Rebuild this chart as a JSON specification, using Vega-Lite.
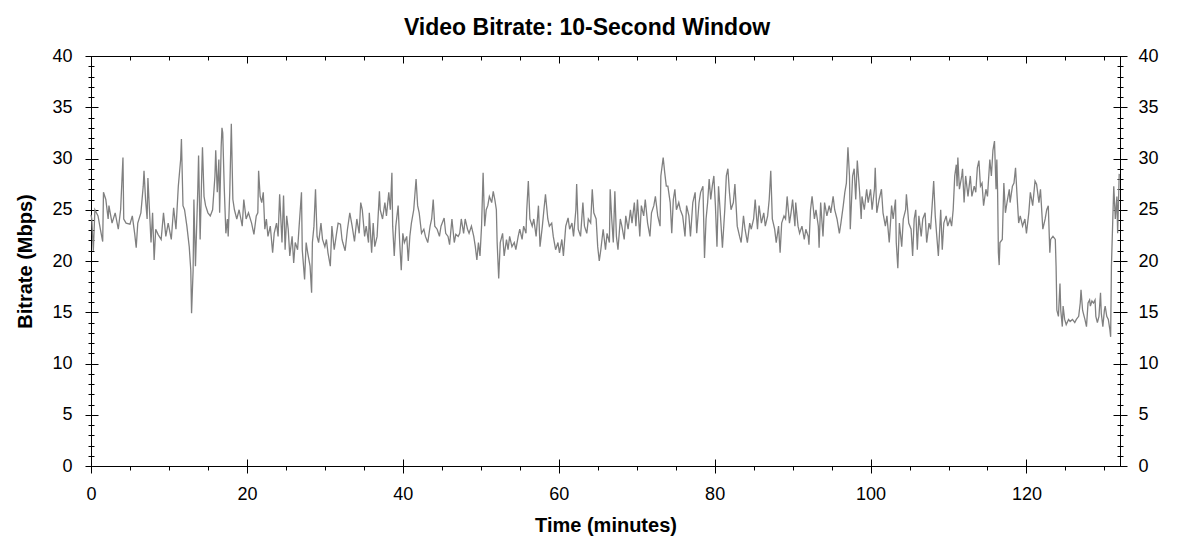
{
  "$schema": "https://vega.github.io/schema/vega-lite/v6.json",
  "width": 1029,
  "height": 410,
  "autosize": "none",
  "padding": {"left": 91, "top": 56, "right": 58, "bottom": 86},
  "background": "white",
  "title": {
    "text": "Video Bitrate: 10-Second Window",
    "font": "Liberation Sans",
    "fontSize": 23,
    "fontWeight": "bold",
    "color": "black",
    "frame": "bounds",
    "anchor": "middle",
    "baseline": "alphabetic",
    "offset": -11
  },
  "config": {
    "view": {"stroke": "black", "strokeWidth": 1},
    "axis": {
      "grid": false,
      "domain": false,
      "labelFlush": false,
      "tickColor": "black",
      "tickWidth": 1,
      "labelColor": "black",
      "titleColor": "black",
      "labelFont": "Liberation Sans",
      "titleFont": "Liberation Sans",
      "labelFontSize": 18,
      "titleFontSize": 20,
      "titleFontWeight": "bold"
    }
  },
  "data": {
    "values": [
      {"minutes": 0.0, "mbps": 24.5}, {"minutes": 0.1, "mbps": 24.1}, {"minutes": 0.3, "mbps": 21.0}, {"minutes": 0.5, "mbps": 25.0},
      {"minutes": 0.9, "mbps": 24.4}, {"minutes": 1.2, "mbps": 23.1}, {"minutes": 1.5, "mbps": 21.9}, {"minutes": 1.6, "mbps": 26.7},
      {"minutes": 1.9, "mbps": 26.0}, {"minutes": 2.2, "mbps": 24.1}, {"minutes": 2.3, "mbps": 25.4}, {"minutes": 2.7, "mbps": 23.7},
      {"minutes": 3.1, "mbps": 24.7}, {"minutes": 3.5, "mbps": 23.1}, {"minutes": 3.8, "mbps": 25.0}, {"minutes": 4.1, "mbps": 30.1},
      {"minutes": 4.2, "mbps": 24.1}, {"minutes": 4.5, "mbps": 23.7}, {"minutes": 5.0, "mbps": 23.6}, {"minutes": 5.3, "mbps": 24.4},
      {"minutes": 5.6, "mbps": 22.7}, {"minutes": 5.8, "mbps": 21.3}, {"minutes": 6.0, "mbps": 23.7}, {"minutes": 6.4, "mbps": 24.7},
      {"minutes": 6.7, "mbps": 27.3}, {"minutes": 6.8, "mbps": 28.8}, {"minutes": 7.0, "mbps": 26.0}, {"minutes": 7.2, "mbps": 24.1},
      {"minutes": 7.3, "mbps": 28.1}, {"minutes": 7.5, "mbps": 25.0}, {"minutes": 7.7, "mbps": 21.8}, {"minutes": 7.9, "mbps": 24.7},
      {"minutes": 8.1, "mbps": 20.1}, {"minutes": 8.3, "mbps": 23.1}, {"minutes": 8.6, "mbps": 22.6}, {"minutes": 9.0, "mbps": 22.1},
      {"minutes": 9.3, "mbps": 24.7}, {"minutes": 9.6, "mbps": 22.4}, {"minutes": 9.9, "mbps": 23.7}, {"minutes": 10.3, "mbps": 22.1},
      {"minutes": 10.6, "mbps": 25.2}, {"minutes": 10.9, "mbps": 23.1}, {"minutes": 11.2, "mbps": 27.3}, {"minutes": 11.5, "mbps": 29.9},
      {"minutes": 11.6, "mbps": 31.9}, {"minutes": 11.8, "mbps": 25.4}, {"minutes": 12.0, "mbps": 25.0}, {"minutes": 12.3, "mbps": 23.4},
      {"minutes": 12.6, "mbps": 21.4}, {"minutes": 12.8, "mbps": 19.1}, {"minutes": 12.9, "mbps": 14.9}, {"minutes": 13.1, "mbps": 19.1},
      {"minutes": 13.2, "mbps": 26.0}, {"minutes": 13.4, "mbps": 19.5}, {"minutes": 13.7, "mbps": 27.0}, {"minutes": 13.8, "mbps": 30.3},
      {"minutes": 14.0, "mbps": 22.1}, {"minutes": 14.2, "mbps": 28.3}, {"minutes": 14.3, "mbps": 31.1}, {"minutes": 14.5, "mbps": 26.3},
      {"minutes": 14.7, "mbps": 25.4}, {"minutes": 15.0, "mbps": 24.7}, {"minutes": 15.3, "mbps": 24.4}, {"minutes": 15.6, "mbps": 25.0},
      {"minutes": 15.9, "mbps": 28.3}, {"minutes": 16.0, "mbps": 30.8}, {"minutes": 16.2, "mbps": 26.7}, {"minutes": 16.4, "mbps": 29.9},
      {"minutes": 16.5, "mbps": 24.7}, {"minutes": 16.7, "mbps": 31.2}, {"minutes": 16.8, "mbps": 33.0}, {"minutes": 16.9, "mbps": 32.5},
      {"minutes": 17.1, "mbps": 27.0}, {"minutes": 17.3, "mbps": 22.7}, {"minutes": 17.5, "mbps": 24.1}, {"minutes": 17.6, "mbps": 22.4},
      {"minutes": 17.8, "mbps": 26.7}, {"minutes": 18.0, "mbps": 33.4}, {"minutes": 18.2, "mbps": 26.0}, {"minutes": 18.4, "mbps": 25.0},
      {"minutes": 18.7, "mbps": 24.1}, {"minutes": 19.0, "mbps": 25.0}, {"minutes": 19.4, "mbps": 23.4}, {"minutes": 19.6, "mbps": 26.0},
      {"minutes": 19.9, "mbps": 24.1}, {"minutes": 20.2, "mbps": 24.7}, {"minutes": 20.6, "mbps": 23.7}, {"minutes": 20.9, "mbps": 22.6},
      {"minutes": 21.2, "mbps": 24.4}, {"minutes": 21.4, "mbps": 24.7}, {"minutes": 21.5, "mbps": 28.8}, {"minutes": 21.7, "mbps": 26.3},
      {"minutes": 21.9, "mbps": 25.7}, {"minutes": 22.1, "mbps": 26.7}, {"minutes": 22.3, "mbps": 23.1}, {"minutes": 22.5, "mbps": 24.1},
      {"minutes": 22.7, "mbps": 22.4}, {"minutes": 23.0, "mbps": 23.4}, {"minutes": 23.3, "mbps": 20.8}, {"minutes": 23.5, "mbps": 22.7},
      {"minutes": 23.8, "mbps": 23.7}, {"minutes": 24.0, "mbps": 22.4}, {"minutes": 24.2, "mbps": 26.5}, {"minutes": 24.5, "mbps": 21.8},
      {"minutes": 24.7, "mbps": 26.4}, {"minutes": 24.9, "mbps": 21.1}, {"minutes": 25.1, "mbps": 24.4}, {"minutes": 25.3, "mbps": 23.1},
      {"minutes": 25.5, "mbps": 20.5}, {"minutes": 25.8, "mbps": 22.4}, {"minutes": 26.0, "mbps": 19.8}, {"minutes": 26.2, "mbps": 21.8},
      {"minutes": 26.5, "mbps": 21.1}, {"minutes": 26.7, "mbps": 23.4}, {"minutes": 27.0, "mbps": 26.7}, {"minutes": 27.1, "mbps": 21.1},
      {"minutes": 27.4, "mbps": 18.2}, {"minutes": 27.6, "mbps": 21.8}, {"minutes": 27.8, "mbps": 20.8}, {"minutes": 28.1, "mbps": 19.5},
      {"minutes": 28.3, "mbps": 16.9}, {"minutes": 28.4, "mbps": 21.8}, {"minutes": 28.6, "mbps": 23.4}, {"minutes": 28.8, "mbps": 27.0},
      {"minutes": 29.0, "mbps": 22.4}, {"minutes": 29.2, "mbps": 21.8}, {"minutes": 29.5, "mbps": 23.7}, {"minutes": 29.7, "mbps": 22.1},
      {"minutes": 30.0, "mbps": 21.4}, {"minutes": 30.2, "mbps": 22.1}, {"minutes": 30.4, "mbps": 20.8}, {"minutes": 30.7, "mbps": 19.5},
      {"minutes": 30.9, "mbps": 23.4}, {"minutes": 31.2, "mbps": 21.1}, {"minutes": 31.5, "mbps": 22.7}, {"minutes": 31.7, "mbps": 23.7},
      {"minutes": 32.0, "mbps": 23.6}, {"minutes": 32.2, "mbps": 22.1}, {"minutes": 32.3, "mbps": 21.8}, {"minutes": 32.6, "mbps": 21.0},
      {"minutes": 32.9, "mbps": 23.1}, {"minutes": 33.2, "mbps": 24.7}, {"minutes": 33.5, "mbps": 23.4}, {"minutes": 33.8, "mbps": 21.9},
      {"minutes": 34.1, "mbps": 24.1}, {"minutes": 34.4, "mbps": 22.7}, {"minutes": 34.6, "mbps": 25.7}, {"minutes": 34.8, "mbps": 25.0},
      {"minutes": 35.1, "mbps": 22.4}, {"minutes": 35.3, "mbps": 23.4}, {"minutes": 35.6, "mbps": 21.8}, {"minutes": 35.7, "mbps": 24.7},
      {"minutes": 36.0, "mbps": 20.8}, {"minutes": 36.2, "mbps": 23.7}, {"minutes": 36.4, "mbps": 21.4}, {"minutes": 36.7, "mbps": 22.4},
      {"minutes": 37.0, "mbps": 26.8}, {"minutes": 37.1, "mbps": 25.0}, {"minutes": 37.4, "mbps": 24.1}, {"minutes": 37.7, "mbps": 25.7},
      {"minutes": 37.9, "mbps": 24.4}, {"minutes": 38.2, "mbps": 26.7}, {"minutes": 38.4, "mbps": 25.0}, {"minutes": 38.6, "mbps": 28.6},
      {"minutes": 38.7, "mbps": 23.4}, {"minutes": 38.9, "mbps": 20.5}, {"minutes": 39.1, "mbps": 23.4}, {"minutes": 39.4, "mbps": 25.4},
      {"minutes": 39.6, "mbps": 21.8}, {"minutes": 39.8, "mbps": 19.1}, {"minutes": 40.0, "mbps": 22.7}, {"minutes": 40.2, "mbps": 21.8},
      {"minutes": 40.5, "mbps": 22.4}, {"minutes": 40.7, "mbps": 20.0}, {"minutes": 40.9, "mbps": 22.4}, {"minutes": 41.1, "mbps": 23.7},
      {"minutes": 41.4, "mbps": 25.0}, {"minutes": 41.7, "mbps": 28.0}, {"minutes": 41.9, "mbps": 25.4}, {"minutes": 42.1, "mbps": 24.7},
      {"minutes": 42.4, "mbps": 22.7}, {"minutes": 42.7, "mbps": 23.1}, {"minutes": 42.9, "mbps": 22.4}, {"minutes": 43.2, "mbps": 21.8},
      {"minutes": 43.5, "mbps": 23.4}, {"minutes": 43.7, "mbps": 24.1}, {"minutes": 43.9, "mbps": 26.0}, {"minutes": 44.1, "mbps": 23.4},
      {"minutes": 44.4, "mbps": 23.1}, {"minutes": 44.7, "mbps": 22.4}, {"minutes": 44.9, "mbps": 23.4}, {"minutes": 45.3, "mbps": 24.2},
      {"minutes": 45.5, "mbps": 22.7}, {"minutes": 45.8, "mbps": 22.4}, {"minutes": 46.0, "mbps": 21.6}, {"minutes": 46.3, "mbps": 24.1},
      {"minutes": 46.6, "mbps": 21.8}, {"minutes": 46.8, "mbps": 22.6}, {"minutes": 47.1, "mbps": 22.4}, {"minutes": 47.3, "mbps": 22.7},
      {"minutes": 47.5, "mbps": 24.1}, {"minutes": 47.8, "mbps": 22.7}, {"minutes": 48.0, "mbps": 24.1}, {"minutes": 48.3, "mbps": 23.1},
      {"minutes": 48.5, "mbps": 22.7}, {"minutes": 48.8, "mbps": 23.4}, {"minutes": 49.1, "mbps": 22.4}, {"minutes": 49.3, "mbps": 21.4},
      {"minutes": 49.5, "mbps": 20.1}, {"minutes": 49.7, "mbps": 21.8}, {"minutes": 49.9, "mbps": 20.5}, {"minutes": 50.1, "mbps": 23.4},
      {"minutes": 50.3, "mbps": 28.6}, {"minutes": 50.5, "mbps": 23.4}, {"minutes": 50.7, "mbps": 25.0}, {"minutes": 50.9, "mbps": 25.4},
      {"minutes": 51.1, "mbps": 26.3}, {"minutes": 51.4, "mbps": 25.7}, {"minutes": 51.6, "mbps": 26.8}, {"minutes": 51.8, "mbps": 26.0},
      {"minutes": 52.0, "mbps": 25.0}, {"minutes": 52.1, "mbps": 21.8}, {"minutes": 52.3, "mbps": 18.3}, {"minutes": 52.5, "mbps": 21.8},
      {"minutes": 52.8, "mbps": 22.7}, {"minutes": 53.0, "mbps": 20.5}, {"minutes": 53.3, "mbps": 22.1}, {"minutes": 53.5, "mbps": 21.1},
      {"minutes": 53.7, "mbps": 22.4}, {"minutes": 54.0, "mbps": 21.4}, {"minutes": 54.3, "mbps": 21.8}, {"minutes": 54.5, "mbps": 21.1},
      {"minutes": 54.8, "mbps": 22.4}, {"minutes": 55.0, "mbps": 23.1}, {"minutes": 55.3, "mbps": 22.1}, {"minutes": 55.5, "mbps": 23.4},
      {"minutes": 55.8, "mbps": 22.7}, {"minutes": 55.9, "mbps": 25.0}, {"minutes": 56.1, "mbps": 27.8}, {"minutes": 56.3, "mbps": 24.1},
      {"minutes": 56.6, "mbps": 23.4}, {"minutes": 56.8, "mbps": 24.1}, {"minutes": 57.1, "mbps": 22.4}, {"minutes": 57.4, "mbps": 25.4},
      {"minutes": 57.6, "mbps": 21.4}, {"minutes": 57.9, "mbps": 23.4}, {"minutes": 58.1, "mbps": 25.0}, {"minutes": 58.3, "mbps": 26.5},
      {"minutes": 58.6, "mbps": 24.1}, {"minutes": 58.8, "mbps": 23.4}, {"minutes": 59.1, "mbps": 23.7}, {"minutes": 59.3, "mbps": 22.4},
      {"minutes": 59.6, "mbps": 21.1}, {"minutes": 59.9, "mbps": 21.8}, {"minutes": 60.1, "mbps": 20.8}, {"minutes": 60.4, "mbps": 22.1},
      {"minutes": 60.6, "mbps": 20.5}, {"minutes": 60.9, "mbps": 23.4}, {"minutes": 61.2, "mbps": 24.2}, {"minutes": 61.4, "mbps": 23.1},
      {"minutes": 61.7, "mbps": 23.7}, {"minutes": 61.9, "mbps": 22.4}, {"minutes": 62.2, "mbps": 25.0}, {"minutes": 62.3, "mbps": 27.5},
      {"minutes": 62.5, "mbps": 23.1}, {"minutes": 62.8, "mbps": 22.4}, {"minutes": 63.1, "mbps": 25.7}, {"minutes": 63.3, "mbps": 23.4},
      {"minutes": 63.6, "mbps": 22.7}, {"minutes": 63.8, "mbps": 24.1}, {"minutes": 64.1, "mbps": 23.7}, {"minutes": 64.3, "mbps": 27.0},
      {"minutes": 64.5, "mbps": 24.7}, {"minutes": 64.8, "mbps": 24.1}, {"minutes": 65.0, "mbps": 21.4}, {"minutes": 65.2, "mbps": 20.0},
      {"minutes": 65.4, "mbps": 21.1}, {"minutes": 65.7, "mbps": 23.1}, {"minutes": 66.0, "mbps": 21.1}, {"minutes": 66.2, "mbps": 22.7},
      {"minutes": 66.5, "mbps": 21.8}, {"minutes": 66.6, "mbps": 27.0}, {"minutes": 66.8, "mbps": 24.1}, {"minutes": 67.0, "mbps": 21.8},
      {"minutes": 67.2, "mbps": 26.8}, {"minutes": 67.4, "mbps": 22.4}, {"minutes": 67.6, "mbps": 21.1}, {"minutes": 67.9, "mbps": 24.1},
      {"minutes": 68.1, "mbps": 23.4}, {"minutes": 68.4, "mbps": 22.1}, {"minutes": 68.6, "mbps": 24.4}, {"minutes": 68.9, "mbps": 23.1},
      {"minutes": 69.2, "mbps": 25.0}, {"minutes": 69.4, "mbps": 23.7}, {"minutes": 69.7, "mbps": 25.7}, {"minutes": 69.9, "mbps": 23.4},
      {"minutes": 70.1, "mbps": 26.0}, {"minutes": 70.4, "mbps": 22.4}, {"minutes": 70.6, "mbps": 25.4}, {"minutes": 70.9, "mbps": 24.4},
      {"minutes": 71.1, "mbps": 26.0}, {"minutes": 71.4, "mbps": 23.7}, {"minutes": 71.7, "mbps": 22.4}, {"minutes": 71.9, "mbps": 24.7},
      {"minutes": 72.2, "mbps": 25.4}, {"minutes": 72.4, "mbps": 26.3}, {"minutes": 72.7, "mbps": 24.4}, {"minutes": 73.0, "mbps": 23.4},
      {"minutes": 73.1, "mbps": 28.3}, {"minutes": 73.4, "mbps": 30.1}, {"minutes": 73.6, "mbps": 28.6}, {"minutes": 73.8, "mbps": 27.3},
      {"minutes": 74.0, "mbps": 27.3}, {"minutes": 74.3, "mbps": 25.7}, {"minutes": 74.5, "mbps": 22.7}, {"minutes": 74.7, "mbps": 26.0},
      {"minutes": 74.9, "mbps": 27.0}, {"minutes": 75.1, "mbps": 25.0}, {"minutes": 75.4, "mbps": 25.7}, {"minutes": 75.6, "mbps": 25.0},
      {"minutes": 75.9, "mbps": 24.4}, {"minutes": 76.2, "mbps": 22.4}, {"minutes": 76.4, "mbps": 25.4}, {"minutes": 76.7, "mbps": 24.4},
      {"minutes": 76.9, "mbps": 22.4}, {"minutes": 77.2, "mbps": 25.7}, {"minutes": 77.5, "mbps": 26.7}, {"minutes": 77.7, "mbps": 22.7},
      {"minutes": 78.0, "mbps": 25.7}, {"minutes": 78.2, "mbps": 26.7}, {"minutes": 78.5, "mbps": 27.3}, {"minutes": 78.7, "mbps": 20.3},
      {"minutes": 78.9, "mbps": 24.1}, {"minutes": 79.1, "mbps": 25.7}, {"minutes": 79.3, "mbps": 28.0}, {"minutes": 79.5, "mbps": 26.0},
      {"minutes": 79.7, "mbps": 27.3}, {"minutes": 79.9, "mbps": 28.3}, {"minutes": 80.1, "mbps": 25.4}, {"minutes": 80.3, "mbps": 21.4},
      {"minutes": 80.5, "mbps": 27.3}, {"minutes": 80.7, "mbps": 25.0}, {"minutes": 81.0, "mbps": 21.3}, {"minutes": 81.3, "mbps": 25.0},
      {"minutes": 81.5, "mbps": 28.3}, {"minutes": 81.7, "mbps": 29.0}, {"minutes": 81.9, "mbps": 26.7}, {"minutes": 82.1, "mbps": 25.0},
      {"minutes": 82.4, "mbps": 25.7}, {"minutes": 82.6, "mbps": 27.5}, {"minutes": 82.9, "mbps": 23.4}, {"minutes": 83.2, "mbps": 22.4},
      {"minutes": 83.4, "mbps": 21.8}, {"minutes": 83.7, "mbps": 24.4}, {"minutes": 83.9, "mbps": 23.1}, {"minutes": 84.2, "mbps": 21.8},
      {"minutes": 84.5, "mbps": 23.7}, {"minutes": 84.7, "mbps": 23.1}, {"minutes": 85.0, "mbps": 24.1}, {"minutes": 85.2, "mbps": 26.0},
      {"minutes": 85.5, "mbps": 23.1}, {"minutes": 85.7, "mbps": 25.4}, {"minutes": 86.0, "mbps": 23.7}, {"minutes": 86.3, "mbps": 24.7},
      {"minutes": 86.5, "mbps": 23.4}, {"minutes": 86.8, "mbps": 24.4}, {"minutes": 87.0, "mbps": 26.0}, {"minutes": 87.2, "mbps": 28.8},
      {"minutes": 87.4, "mbps": 24.1}, {"minutes": 87.7, "mbps": 23.1}, {"minutes": 87.9, "mbps": 21.8}, {"minutes": 88.2, "mbps": 23.4},
      {"minutes": 88.4, "mbps": 20.8}, {"minutes": 88.6, "mbps": 23.7}, {"minutes": 88.9, "mbps": 24.4}, {"minutes": 89.1, "mbps": 24.1},
      {"minutes": 89.3, "mbps": 26.3}, {"minutes": 89.6, "mbps": 23.7}, {"minutes": 89.8, "mbps": 24.7}, {"minutes": 90.0, "mbps": 26.0},
      {"minutes": 90.3, "mbps": 23.4}, {"minutes": 90.4, "mbps": 25.7}, {"minutes": 90.7, "mbps": 23.4}, {"minutes": 90.9, "mbps": 22.7},
      {"minutes": 91.2, "mbps": 23.4}, {"minutes": 91.5, "mbps": 22.1}, {"minutes": 91.7, "mbps": 23.1}, {"minutes": 92.0, "mbps": 22.4},
      {"minutes": 92.1, "mbps": 21.6}, {"minutes": 92.3, "mbps": 25.0}, {"minutes": 92.5, "mbps": 26.3}, {"minutes": 92.8, "mbps": 24.1},
      {"minutes": 93.0, "mbps": 25.0}, {"minutes": 93.3, "mbps": 23.4}, {"minutes": 93.4, "mbps": 21.3}, {"minutes": 93.6, "mbps": 25.7},
      {"minutes": 93.9, "mbps": 22.4}, {"minutes": 94.1, "mbps": 25.7}, {"minutes": 94.4, "mbps": 24.4}, {"minutes": 94.7, "mbps": 25.4},
      {"minutes": 94.9, "mbps": 24.7}, {"minutes": 95.2, "mbps": 26.3}, {"minutes": 95.4, "mbps": 25.0}, {"minutes": 95.7, "mbps": 24.1},
      {"minutes": 96.0, "mbps": 22.7}, {"minutes": 96.2, "mbps": 23.7}, {"minutes": 96.5, "mbps": 25.4}, {"minutes": 96.7, "mbps": 26.7},
      {"minutes": 96.9, "mbps": 27.6}, {"minutes": 97.1, "mbps": 31.1}, {"minutes": 97.3, "mbps": 28.3}, {"minutes": 97.4, "mbps": 23.1},
      {"minutes": 97.7, "mbps": 28.3}, {"minutes": 97.9, "mbps": 29.0}, {"minutes": 98.1, "mbps": 26.0}, {"minutes": 98.3, "mbps": 29.8},
      {"minutes": 98.6, "mbps": 26.7}, {"minutes": 98.8, "mbps": 24.1}, {"minutes": 98.9, "mbps": 26.3}, {"minutes": 99.2, "mbps": 25.0},
      {"minutes": 99.5, "mbps": 27.0}, {"minutes": 99.7, "mbps": 25.7}, {"minutes": 100.0, "mbps": 27.0}, {"minutes": 100.2, "mbps": 25.0},
      {"minutes": 100.5, "mbps": 27.0}, {"minutes": 100.6, "mbps": 29.1}, {"minutes": 100.8, "mbps": 24.7}, {"minutes": 101.1, "mbps": 26.0},
      {"minutes": 101.4, "mbps": 27.0}, {"minutes": 101.6, "mbps": 24.7}, {"minutes": 101.9, "mbps": 23.4}, {"minutes": 102.1, "mbps": 24.4},
      {"minutes": 102.4, "mbps": 21.8}, {"minutes": 102.7, "mbps": 25.4}, {"minutes": 102.9, "mbps": 24.1}, {"minutes": 103.2, "mbps": 26.0},
      {"minutes": 103.3, "mbps": 21.8}, {"minutes": 103.5, "mbps": 19.3}, {"minutes": 103.7, "mbps": 23.7}, {"minutes": 104.0, "mbps": 21.4},
      {"minutes": 104.2, "mbps": 24.1}, {"minutes": 104.5, "mbps": 25.0}, {"minutes": 104.6, "mbps": 26.5}, {"minutes": 104.9, "mbps": 23.7},
      {"minutes": 105.2, "mbps": 23.1}, {"minutes": 105.4, "mbps": 20.5}, {"minutes": 105.6, "mbps": 24.1}, {"minutes": 105.8, "mbps": 25.0},
      {"minutes": 106.0, "mbps": 21.1}, {"minutes": 106.2, "mbps": 24.4}, {"minutes": 106.5, "mbps": 22.4}, {"minutes": 106.7, "mbps": 24.1},
      {"minutes": 107.0, "mbps": 24.7}, {"minutes": 107.2, "mbps": 21.8}, {"minutes": 107.5, "mbps": 23.7}, {"minutes": 107.7, "mbps": 23.1},
      {"minutes": 107.9, "mbps": 25.4}, {"minutes": 108.1, "mbps": 27.8}, {"minutes": 108.3, "mbps": 24.4}, {"minutes": 108.5, "mbps": 22.4},
      {"minutes": 108.7, "mbps": 20.5}, {"minutes": 109.0, "mbps": 25.0}, {"minutes": 109.2, "mbps": 21.1}, {"minutes": 109.4, "mbps": 23.7},
      {"minutes": 109.7, "mbps": 24.4}, {"minutes": 109.9, "mbps": 23.4}, {"minutes": 110.2, "mbps": 24.1}, {"minutes": 110.4, "mbps": 23.4},
      {"minutes": 110.6, "mbps": 25.0}, {"minutes": 110.8, "mbps": 28.3}, {"minutes": 111.0, "mbps": 29.4}, {"minutes": 111.1, "mbps": 27.3},
      {"minutes": 111.2, "mbps": 30.1}, {"minutes": 111.4, "mbps": 27.0}, {"minutes": 111.7, "mbps": 28.3}, {"minutes": 111.8, "mbps": 29.0},
      {"minutes": 112.0, "mbps": 25.7}, {"minutes": 112.2, "mbps": 28.3}, {"minutes": 112.5, "mbps": 26.3}, {"minutes": 112.8, "mbps": 28.3},
      {"minutes": 113.0, "mbps": 26.3}, {"minutes": 113.3, "mbps": 27.3}, {"minutes": 113.5, "mbps": 26.7}, {"minutes": 113.7, "mbps": 29.1},
      {"minutes": 113.9, "mbps": 29.8}, {"minutes": 114.1, "mbps": 27.3}, {"minutes": 114.3, "mbps": 27.6}, {"minutes": 114.5, "mbps": 25.4},
      {"minutes": 114.8, "mbps": 27.0}, {"minutes": 115.0, "mbps": 26.3}, {"minutes": 115.3, "mbps": 29.9}, {"minutes": 115.5, "mbps": 28.3},
      {"minutes": 115.7, "mbps": 30.8}, {"minutes": 115.9, "mbps": 31.7}, {"minutes": 116.1, "mbps": 27.0}, {"minutes": 116.2, "mbps": 29.9},
      {"minutes": 116.3, "mbps": 26.7}, {"minutes": 116.4, "mbps": 20.8}, {"minutes": 116.5, "mbps": 19.6}, {"minutes": 116.6, "mbps": 21.8},
      {"minutes": 116.9, "mbps": 22.1}, {"minutes": 117.1, "mbps": 27.6}, {"minutes": 117.3, "mbps": 24.7}, {"minutes": 117.5, "mbps": 25.7},
      {"minutes": 117.8, "mbps": 27.0}, {"minutes": 117.9, "mbps": 25.7}, {"minutes": 118.2, "mbps": 27.3}, {"minutes": 118.4, "mbps": 27.6},
      {"minutes": 118.6, "mbps": 29.1}, {"minutes": 118.8, "mbps": 26.3}, {"minutes": 119.0, "mbps": 23.7}, {"minutes": 119.2, "mbps": 24.4},
      {"minutes": 119.5, "mbps": 23.4}, {"minutes": 119.8, "mbps": 24.1}, {"minutes": 120.0, "mbps": 22.7}, {"minutes": 120.3, "mbps": 24.7},
      {"minutes": 120.5, "mbps": 26.7}, {"minutes": 120.8, "mbps": 25.4}, {"minutes": 121.1, "mbps": 27.8}, {"minutes": 121.3, "mbps": 27.5},
      {"minutes": 121.6, "mbps": 25.7}, {"minutes": 121.8, "mbps": 27.0}, {"minutes": 122.1, "mbps": 23.1}, {"minutes": 122.4, "mbps": 24.1},
      {"minutes": 122.6, "mbps": 25.0}, {"minutes": 122.8, "mbps": 25.4}, {"minutes": 123.0, "mbps": 20.8}, {"minutes": 123.1, "mbps": 22.1},
      {"minutes": 123.4, "mbps": 22.4}, {"minutes": 123.7, "mbps": 22.1}, {"minutes": 123.8, "mbps": 19.5}, {"minutes": 123.9, "mbps": 15.2},
      {"minutes": 124.1, "mbps": 14.6}, {"minutes": 124.2, "mbps": 16.2}, {"minutes": 124.3, "mbps": 17.8}, {"minutes": 124.4, "mbps": 15.2},
      {"minutes": 124.6, "mbps": 13.6}, {"minutes": 124.7, "mbps": 15.6}, {"minutes": 124.9, "mbps": 14.3}, {"minutes": 125.1, "mbps": 13.8},
      {"minutes": 125.4, "mbps": 14.3}, {"minutes": 125.6, "mbps": 14.1}, {"minutes": 125.9, "mbps": 14.3}, {"minutes": 126.2, "mbps": 14.0},
      {"minutes": 126.4, "mbps": 14.3}, {"minutes": 126.7, "mbps": 14.6}, {"minutes": 126.9, "mbps": 15.9}, {"minutes": 127.0, "mbps": 17.2},
      {"minutes": 127.2, "mbps": 15.2}, {"minutes": 127.4, "mbps": 14.6}, {"minutes": 127.5, "mbps": 14.3}, {"minutes": 127.7, "mbps": 13.6},
      {"minutes": 127.9, "mbps": 15.9}, {"minutes": 128.1, "mbps": 16.2}, {"minutes": 128.2, "mbps": 15.6}, {"minutes": 128.4, "mbps": 16.1},
      {"minutes": 128.6, "mbps": 15.9}, {"minutes": 128.8, "mbps": 16.2}, {"minutes": 128.9, "mbps": 14.6}, {"minutes": 129.1, "mbps": 14.0},
      {"minutes": 129.3, "mbps": 14.6}, {"minutes": 129.5, "mbps": 16.9}, {"minutes": 129.6, "mbps": 14.9}, {"minutes": 129.8, "mbps": 13.6},
      {"minutes": 130.0, "mbps": 15.2}, {"minutes": 130.1, "mbps": 15.6}, {"minutes": 130.3, "mbps": 14.6}, {"minutes": 130.5, "mbps": 14.3},
      {"minutes": 130.7, "mbps": 13.3}, {"minutes": 130.8, "mbps": 12.6}, {"minutes": 130.9, "mbps": 19.5}, {"minutes": 131.1, "mbps": 24.7},
      {"minutes": 131.2, "mbps": 27.3}, {"minutes": 131.4, "mbps": 24.1}, {"minutes": 131.6, "mbps": 26.3}, {"minutes": 131.7, "mbps": 22.7},
      {"minutes": 131.9, "mbps": 28.5}
    ]
  },
  "resolve": {"axis": {"x": "independent", "y": "independent"}},
  "layer": [
    {
      "mark": {"type": "line", "color": "#808080", "strokeWidth": 1.3},
      "encoding": {
        "x": {"field": "minutes", "type": "quantitative", "scale": {"domain": [0, 132], "nice": false},
          "axis": {"orient": "bottom", "values": [0, 20, 40, 60, 80, 100, 120], "tickSize": 7, "labelPadding": 12, "title": "Time (minutes)", "titlePadding": 12}},
        "y": {"field": "mbps", "type": "quantitative", "scale": {"domain": [0, 40], "nice": false},
          "axis": {"orient": "left", "values": [0, 5, 10, 15, 20, 25, 30, 35, 40], "tickSize": 6, "labelPadding": 13, "title": "Bitrate (Mbps)", "titlePadding": 16}}
      }
    },
    {
      "mark": {"type": "line", "opacity": 0},
      "encoding": {
        "x": {"field": "minutes", "type": "quantitative",
          "axis": {"orient": "bottom", "values": [0, 20, 40, 60, 80, 100, 120], "tickSize": -7, "labels": false, "title": null}},
        "y": {"field": "mbps", "type": "quantitative",
          "axis": {"orient": "left", "values": [0, 5, 10, 15, 20, 25, 30, 35, 40], "tickSize": -7, "labels": false, "title": null}}
      }
    },
    {
      "mark": {"type": "line", "opacity": 0},
      "encoding": {
        "x": {"field": "minutes", "type": "quantitative",
          "axis": {"orient": "bottom", "values": [0, 5, 10, 15, 20, 25, 30, 35, 40, 45, 50, 55, 60, 65, 70, 75, 80, 85, 90, 95, 100, 105, 110, 115, 120, 125, 130], "tickSize": 4, "labels": false, "title": null}},
        "y": {"field": "mbps", "type": "quantitative",
          "axis": {"orient": "left", "values": [0, 1, 2, 3, 4, 5, 6, 7, 8, 9, 10, 11, 12, 13, 14, 15, 16, 17, 18, 19, 20, 21, 22, 23, 24, 25, 26, 27, 28, 29, 30, 31, 32, 33, 34, 35, 36, 37, 38, 39, 40], "tickSize": 3, "labels": false, "title": null}}
      }
    },
    {
      "mark": {"type": "line", "opacity": 0},
      "encoding": {
        "x": {"field": "minutes", "type": "quantitative",
          "axis": {"orient": "top", "values": [0, 5, 10, 15, 20, 25, 30, 35, 40, 45, 50, 55, 60, 65, 70, 75, 80, 85, 90, 95, 100, 105, 110, 115, 120, 125, 130], "tickSize": -4, "labels": false, "title": null}},
        "y": {"field": "mbps", "type": "quantitative",
          "axis": {"orient": "left", "values": [0, 1, 2, 3, 4, 5, 6, 7, 8, 9, 10, 11, 12, 13, 14, 15, 16, 17, 18, 19, 20, 21, 22, 23, 24, 25, 26, 27, 28, 29, 30, 31, 32, 33, 34, 35, 36, 37, 38, 39, 40], "tickSize": -3, "labels": false, "title": null}}
      }
    },
    {
      "mark": {"type": "line", "opacity": 0},
      "encoding": {
        "x": {"field": "minutes", "type": "quantitative",
          "axis": {"orient": "top", "values": [0, 20, 40, 60, 80, 100, 120], "tickSize": -7, "labels": false, "title": null}},
        "y": {"field": "mbps", "type": "quantitative",
          "axis": {"orient": "right", "values": [0, 5, 10, 15, 20, 25, 30, 35, 40], "tickSize": 7, "labelPadding": 11, "title": null}}
      }
    },
    {
      "mark": {"type": "line", "opacity": 0},
      "encoding": {
        "x": {"field": "minutes", "type": "quantitative", "axis": null},
        "y": {"field": "mbps", "type": "quantitative",
          "axis": {"orient": "right", "values": [0, 5, 10, 15, 20, 25, 30, 35, 40], "tickSize": -7, "labels": false, "title": null}}
      }
    },
    {
      "mark": {"type": "line", "opacity": 0},
      "encoding": {
        "x": {"field": "minutes", "type": "quantitative", "axis": null},
        "y": {"field": "mbps", "type": "quantitative",
          "axis": {"orient": "right", "values": [0, 1, 2, 3, 4, 5, 6, 7, 8, 9, 10, 11, 12, 13, 14, 15, 16, 17, 18, 19, 20, 21, 22, 23, 24, 25, 26, 27, 28, 29, 30, 31, 32, 33, 34, 35, 36, 37, 38, 39, 40], "tickSize": 3, "labels": false, "title": null}}
      }
    },
    {
      "mark": {"type": "line", "opacity": 0},
      "encoding": {
        "x": {"field": "minutes", "type": "quantitative", "axis": null},
        "y": {"field": "mbps", "type": "quantitative",
          "axis": {"orient": "right", "values": [0, 1, 2, 3, 4, 5, 6, 7, 8, 9, 10, 11, 12, 13, 14, 15, 16, 17, 18, 19, 20, 21, 22, 23, 24, 25, 26, 27, 28, 29, 30, 31, 32, 33, 34, 35, 36, 37, 38, 39, 40], "tickSize": -3, "labels": false, "title": null}}
      }
    }
  ]
}
